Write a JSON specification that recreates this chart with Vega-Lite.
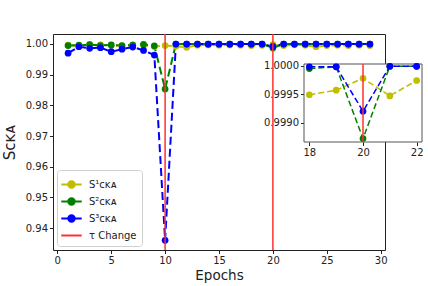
{
  "$schema": "https://vega.github.io/schema/vega-lite/v6.json",
  "width": 332,
  "height": 216,
  "autosize": {"type": "none"},
  "padding": {"left": 53, "top": 34, "right": 43, "bottom": 36},
  "background": "white",
  "config": {
    "view": {"stroke": "#222", "strokeWidth": 1},
    "font": "DejaVu Sans",
    "axis": {
      "grid": false,
      "domain": false,
      "tickColor": "#222",
      "tickSize": 3.5,
      "labelFontSize": 10,
      "labelColor": "#222",
      "labelFont": "DejaVu Sans",
      "titleFont": "DejaVu Sans",
      "titleFontWeight": "normal",
      "titleColor": "#222",
      "labelPadding": 2,
      "labelOverlap": false,
      "labelFlush": false
    },
    "legend": {
      "labelFont": "DejaVu Sans",
      "labelFontSize": 10,
      "labelColor": "#222"
    }
  },
  "datasets": {
    "scores": [
      {"epoch": 1, "series": "S¹ᴄᴋᴀ", "value": 0.9996},
      {"epoch": 2, "series": "S¹ᴄᴋᴀ", "value": 0.9994},
      {"epoch": 3, "series": "S¹ᴄᴋᴀ", "value": 0.9998},
      {"epoch": 4, "series": "S¹ᴄᴋᴀ", "value": 0.9997},
      {"epoch": 5, "series": "S¹ᴄᴋᴀ", "value": 0.9996},
      {"epoch": 6, "series": "S¹ᴄᴋᴀ", "value": 0.9994},
      {"epoch": 7, "series": "S¹ᴄᴋᴀ", "value": 0.9997},
      {"epoch": 8, "series": "S¹ᴄᴋᴀ", "value": 0.9995},
      {"epoch": 9, "series": "S¹ᴄᴋᴀ", "value": 0.9992},
      {"epoch": 10, "series": "S¹ᴄᴋᴀ", "value": 0.9995},
      {"epoch": 11, "series": "S¹ᴄᴋᴀ", "value": 0.9993},
      {"epoch": 12, "series": "S¹ᴄᴋᴀ", "value": 0.9989},
      {"epoch": 13, "series": "S¹ᴄᴋᴀ", "value": 0.9996},
      {"epoch": 14, "series": "S¹ᴄᴋᴀ", "value": 0.9997},
      {"epoch": 15, "series": "S¹ᴄᴋᴀ", "value": 0.9996},
      {"epoch": 16, "series": "S¹ᴄᴋᴀ", "value": 0.9997},
      {"epoch": 17, "series": "S¹ᴄᴋᴀ", "value": 0.9996},
      {"epoch": 18, "series": "S¹ᴄᴋᴀ", "value": 0.99949},
      {"epoch": 19, "series": "S¹ᴄᴋᴀ", "value": 0.99957},
      {"epoch": 20, "series": "S¹ᴄᴋᴀ", "value": 0.99978},
      {"epoch": 21, "series": "S¹ᴄᴋᴀ", "value": 0.99947},
      {"epoch": 22, "series": "S¹ᴄᴋᴀ", "value": 0.99974},
      {"epoch": 23, "series": "S¹ᴄᴋᴀ", "value": 0.9996},
      {"epoch": 24, "series": "S¹ᴄᴋᴀ", "value": 0.9991},
      {"epoch": 25, "series": "S¹ᴄᴋᴀ", "value": 0.9995},
      {"epoch": 26, "series": "S¹ᴄᴋᴀ", "value": 0.9996},
      {"epoch": 27, "series": "S¹ᴄᴋᴀ", "value": 0.9995},
      {"epoch": 28, "series": "S¹ᴄᴋᴀ", "value": 0.9996},
      {"epoch": 29, "series": "S¹ᴄᴋᴀ", "value": 0.9995},
      {"epoch": 1, "series": "S²ᴄᴋᴀ", "value": 0.9995},
      {"epoch": 2, "series": "S²ᴄᴋᴀ", "value": 0.9996},
      {"epoch": 3, "series": "S²ᴄᴋᴀ", "value": 0.9998},
      {"epoch": 4, "series": "S²ᴄᴋᴀ", "value": 0.9995},
      {"epoch": 5, "series": "S²ᴄᴋᴀ", "value": 0.9997},
      {"epoch": 6, "series": "S²ᴄᴋᴀ", "value": 0.9995},
      {"epoch": 7, "series": "S²ᴄᴋᴀ", "value": 0.9996},
      {"epoch": 8, "series": "S²ᴄᴋᴀ", "value": 0.9999},
      {"epoch": 9, "series": "S²ᴄᴋᴀ", "value": 0.9994},
      {"epoch": 10, "series": "S²ᴄᴋᴀ", "value": 0.9853},
      {"epoch": 11, "series": "S²ᴄᴋᴀ", "value": 0.99998},
      {"epoch": 12, "series": "S²ᴄᴋᴀ", "value": 0.99999},
      {"epoch": 13, "series": "S²ᴄᴋᴀ", "value": 0.99999},
      {"epoch": 14, "series": "S²ᴄᴋᴀ", "value": 0.99999},
      {"epoch": 15, "series": "S²ᴄᴋᴀ", "value": 0.99999},
      {"epoch": 16, "series": "S²ᴄᴋᴀ", "value": 0.99999},
      {"epoch": 17, "series": "S²ᴄᴋᴀ", "value": 0.99999},
      {"epoch": 18, "series": "S²ᴄᴋᴀ", "value": 0.99995},
      {"epoch": 19, "series": "S²ᴄᴋᴀ", "value": 0.99998},
      {"epoch": 20, "series": "S²ᴄᴋᴀ", "value": 0.99872},
      {"epoch": 21, "series": "S²ᴄᴋᴀ", "value": 0.99999},
      {"epoch": 22, "series": "S²ᴄᴋᴀ", "value": 0.99999},
      {"epoch": 23, "series": "S²ᴄᴋᴀ", "value": 0.99999},
      {"epoch": 24, "series": "S²ᴄᴋᴀ", "value": 0.99999},
      {"epoch": 25, "series": "S²ᴄᴋᴀ", "value": 0.99999},
      {"epoch": 26, "series": "S²ᴄᴋᴀ", "value": 0.99999},
      {"epoch": 27, "series": "S²ᴄᴋᴀ", "value": 0.99999},
      {"epoch": 28, "series": "S²ᴄᴋᴀ", "value": 0.99999},
      {"epoch": 29, "series": "S²ᴄᴋᴀ", "value": 0.99999},
      {"epoch": 1, "series": "S³ᴄᴋᴀ", "value": 0.9970},
      {"epoch": 2, "series": "S³ᴄᴋᴀ", "value": 0.9991},
      {"epoch": 3, "series": "S³ᴄᴋᴀ", "value": 0.9986},
      {"epoch": 4, "series": "S³ᴄᴋᴀ", "value": 0.9988},
      {"epoch": 5, "series": "S³ᴄᴋᴀ", "value": 0.9975},
      {"epoch": 6, "series": "S³ᴄᴋᴀ", "value": 0.9983},
      {"epoch": 7, "series": "S³ᴄᴋᴀ", "value": 0.9990},
      {"epoch": 8, "series": "S³ᴄᴋᴀ", "value": 0.9979},
      {"epoch": 9, "series": "S³ᴄᴋᴀ", "value": 0.9964},
      {"epoch": 10, "series": "S³ᴄᴋᴀ", "value": 0.9360},
      {"epoch": 11, "series": "S³ᴄᴋᴀ", "value": 0.99999},
      {"epoch": 12, "series": "S³ᴄᴋᴀ", "value": 0.99999},
      {"epoch": 13, "series": "S³ᴄᴋᴀ", "value": 0.99999},
      {"epoch": 14, "series": "S³ᴄᴋᴀ", "value": 0.99999},
      {"epoch": 15, "series": "S³ᴄᴋᴀ", "value": 0.99999},
      {"epoch": 16, "series": "S³ᴄᴋᴀ", "value": 0.99999},
      {"epoch": 17, "series": "S³ᴄᴋᴀ", "value": 0.99999},
      {"epoch": 18, "series": "S³ᴄᴋᴀ", "value": 0.99998},
      {"epoch": 19, "series": "S³ᴄᴋᴀ", "value": 0.99998},
      {"epoch": 20, "series": "S³ᴄᴋᴀ", "value": 0.99920},
      {"epoch": 21, "series": "S³ᴄᴋᴀ", "value": 0.99999},
      {"epoch": 22, "series": "S³ᴄᴋᴀ", "value": 0.99999},
      {"epoch": 23, "series": "S³ᴄᴋᴀ", "value": 0.99999},
      {"epoch": 24, "series": "S³ᴄᴋᴀ", "value": 0.99999},
      {"epoch": 25, "series": "S³ᴄᴋᴀ", "value": 0.99999},
      {"epoch": 26, "series": "S³ᴄᴋᴀ", "value": 0.99999},
      {"epoch": 27, "series": "S³ᴄᴋᴀ", "value": 0.99999},
      {"epoch": 28, "series": "S³ᴄᴋᴀ", "value": 0.99999},
      {"epoch": 29, "series": "S³ᴄᴋᴀ", "value": 0.99999}
    ],
    "changes": [
      {"change": 10, "label": "τ Change"},
      {"change": 20, "label": "τ Change"}
    ],
    "inset": [
      {"x0": 17.8, "x1": 22.2, "y0": 0.99866, "y1": 1.00003}
    ]
  },
  "layer": [
    {
      "layer": [
        {
          "data": {"name": "scores"},
          "mark": {"type": "line", "strokeWidth": 2, "strokeDash": [8, 4]},
          "encoding": {
            "x": {"field": "epoch", "type": "quantitative", "scale": {"domain": [-0.4, 30.4], "nice": false, "zero": false},
              "axis": {"orient": "bottom", "values": [0, 5, 10, 15, 20, 25, 30], "tickCount": 7, "format": "d", "title": "Epochs", "titleFontSize": 13.5, "titlePadding": 3, "labelOverlap": false}},
            "y": {"field": "value", "type": "quantitative", "scale": {"domain": [0.93283, 1.00326], "nice": false, "zero": false},
              "axis": {"orient": "left", "values": [0.94, 0.95, 0.96, 0.97, 0.98, 0.99, 1.0], "tickCount": 8, "format": ".2f", "title": "Sᴄᴋᴀ", "titleFontSize": 15, "titlePadding": 8, "labelOverlap": false, "labelSeparation": 0}},
            "color": {"field": "series", "type": "nominal",
              "scale": {"domain": ["S¹ᴄᴋᴀ", "S²ᴄᴋᴀ", "S³ᴄᴋᴀ", "τ Change"], "range": ["#bfbf00", "#008000", "#0000ff", "#ff3030"]},
              "legend": {
                "title": null,
                "orient": "bottom-left",
                "offset": 4,
                "padding": 5,
                "strokeColor": "#d0d0d0",
                "fillColor": "rgba(255,255,255,0.8)",
                "cornerRadius": 3,
                "rowPadding": 0,
                "symbolSize": 289,
                "labelOffset": 8,
                "encode": {
                  "symbols": {
                    "update": {
                      "shape": {"signal": "datum.value === 'τ Change' ? 'M-1.2,0H1.2' : 'M-1.2,0H1.2M0.38,0A0.38,0.38,0,1,1,-0.38,0A0.38,0.38,0,1,1,0.38,0Z'"},
                      "fill": {"scale": "color", "field": "value"},
                      "stroke": {"scale": "color", "field": "value"},
                      "strokeWidth": {"value": 2},
                      "opacity": {"value": 1}
                    }
                  }
                }
              }
            },
            "detail": {"field": "series"}
          }
        },
        {
          "data": {"name": "scores"},
          "mark": {"type": "point", "filled": true, "size": 45, "opacity": 1},
          "encoding": {
            "x": {"field": "epoch", "type": "quantitative"},
            "y": {"field": "value", "type": "quantitative"},
            "color": {"field": "series", "type": "nominal"}
          }
        },
        {
          "data": {"name": "changes"},
          "mark": {"type": "rule", "strokeWidth": 1.5},
          "encoding": {
            "x": {"field": "change", "type": "quantitative"},
            "color": {"field": "label", "type": "nominal"}
          }
        }
      ]
    },
    {
      "layer": [
        {
          "data": {"name": "inset"},
          "mark": {"type": "rect", "fill": "white", "stroke": "#555", "strokeWidth": 1},
          "encoding": {
            "x": {"field": "x0", "type": "quantitative", "scale": {"domain": [17.8, 22.2], "range": [251, 369], "nice": false, "zero": false},
              "axis": {"orient": "bottom", "offset": -108, "values": [18, 20, 22], "format": "d", "title": null, "labelOverlap": false}},
            "x2": {"field": "x1"},
            "y": {"field": "y0", "type": "quantitative", "scale": {"domain": [0.99866, 1.00003], "range": [108, 30], "nice": false, "zero": false},
              "axis": {"orient": "left", "offset": -251, "values": [0.999, 0.9995, 1.0], "format": ".4f", "title": null, "labelOverlap": false}},
            "y2": {"field": "y1"}
          }
        },
        {
          "data": {"name": "scores"},
          "transform": [{"filter": "datum.epoch >= 18 && datum.epoch <= 22"}],
          "mark": {"type": "line", "strokeWidth": 1.5, "strokeDash": [6, 3]},
          "encoding": {
            "x": {"field": "epoch", "type": "quantitative"},
            "y": {"field": "value", "type": "quantitative"},
            "color": {"field": "series", "type": "nominal"}
          }
        },
        {
          "data": {"name": "scores"},
          "transform": [{"filter": "datum.epoch >= 18 && datum.epoch <= 22"}],
          "mark": {"type": "point", "filled": true, "size": 45, "opacity": 1},
          "encoding": {
            "x": {"field": "epoch", "type": "quantitative"},
            "y": {"field": "value", "type": "quantitative"},
            "color": {"field": "series", "type": "nominal"}
          }
        },
        {
          "data": {"name": "changes"},
          "transform": [{"filter": "datum.change == 20"}],
          "mark": {"type": "rule", "strokeWidth": 1.5},
          "encoding": {
            "x": {"field": "change", "type": "quantitative"},
            "y": {"datum": 0.99866},
            "y2": {"datum": 1.00003},
            "color": {"field": "label", "type": "nominal"}
          }
        }
      ]
    }
  ],
  "resolve": {"scale": {"x": "independent", "y": "independent", "color": "shared"}}
}
